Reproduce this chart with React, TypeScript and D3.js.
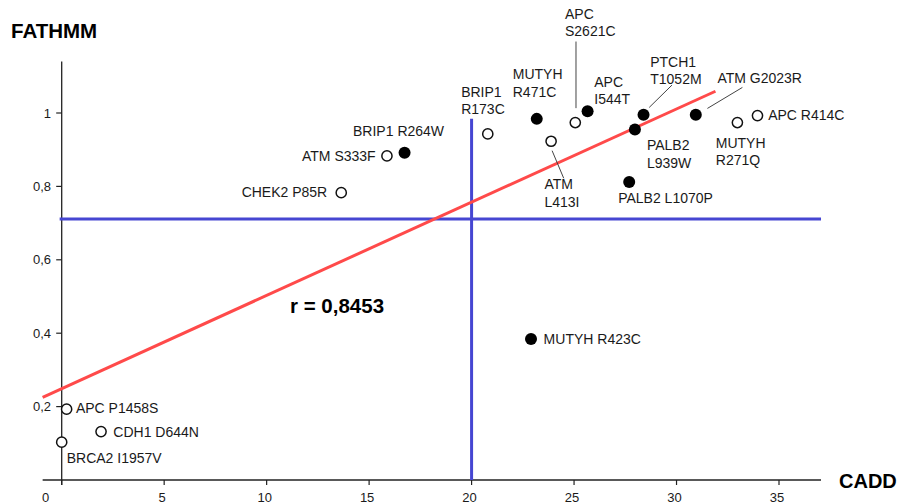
import React from "react";
import * as d3 from "d3";

// ---- Data ----
const variants = [
  "APC P1458S", "CDH1 D644N", "BRCA2 I1957V", "CHEK2 P85R", "ATM S333F",
  "BRIP1 R264W", "BRIP1 R173C", "MUTYH R471C", "ATM L413I", "APC S2621C",
  "APC I544T", "PALB2 L1070P", "PALB2 L939W", "PTCH1 T1052M", "ATM G2023R",
  "MUTYH R271Q", "APC R414C", "MUTYH R423C",
];
const caddScores = [
  0.24, 1.92, 0.0, 13.64, 15.87,
  16.73, 20.79, 23.18, 23.88, 25.06,
  25.66, 27.69, 27.97, 28.39, 30.94,
  32.97, 33.95, 22.9,
];
const fathmmScores = [
  0.193, 0.132, 0.103, 0.783, 0.883,
  0.892, 0.943, 0.984, 0.923, 0.974,
  1.005, 0.812, 0.955, 0.995, 0.995,
  0.974, 0.993, 0.384,
];
const filledFlags = [
  false, false, false, false, false,
  true, false, true, false, false,
  true, true, true, true, true,
  false, false, true,
];
const xTicks = [0, 5, 10, 15, 20, 25, 30, 35];
const yTicks = [0.2, 0.4, 0.6, 0.8, 1];
const caddThreshold = 20;
const fathmmThreshold = 0.711;
const regIntercept = 0.249;
const regSlope = 0.0254;
const correlationText = "r = 0,8453";

// ---- Label layout (pixel offsets from the point) ----
type Lab = { lines: string[]; anchor: string; dx: number; dy: number; leader?: number[] };
const labelLayout: Lab[] = [
  { lines: ["APC P1458S"], anchor: "start", dx: 9.3, dy: 4 },
  { lines: ["CDH1 D644N"], anchor: "start", dx: 12.3, dy: 5 },
  { lines: ["BRCA2 I1957V"], anchor: "start", dx: 5, dy: 21 },
  { lines: ["CHEK2 P85R"], anchor: "end", dx: -14, dy: 4.6 },
  { lines: ["ATM S333F"], anchor: "end", dx: -11.3, dy: 4.7 },
  { lines: ["BRIP1 R264W"], anchor: "middle", dx: -6, dy: -17 },
  { lines: ["BRIP1", "R173C"], anchor: "start", dx: -26.6, dy: -37.3 },
  { lines: ["MUTYH", "R471C"], anchor: "start", dx: -24, dy: -39.7 },
  { lines: ["ATM", "L413I"], anchor: "start", dx: -6.7, dy: 48, leader: [1, 9.4, 12.6, 37] },
  { lines: ["APC", "S2621C"], anchor: "start", dx: -10.3, dy: -103.7, leader: [0.7, -81, 0.7, -14.4] },
  { lines: ["APC", "I544T"], anchor: "start", dx: 6.7, dy: -24.3 },
  { lines: ["PALB2 L1070P"], anchor: "start", dx: -11, dy: 21.3 },
  { lines: ["PALB2", "L939W"], anchor: "start", dx: 12, dy: 20.7 },
  { lines: ["PTCH1", "T1052M"], anchor: "start", dx: 6.7, dy: -48, leader: [28.4, -29.7, 5.7, -7.4] },
  { lines: ["ATM G2023R"], anchor: "start", dx: 21.6, dy: -32, leader: [46.6, -27.4, 11.6, -6.4] },
  { lines: ["MUTYH", "R271Q"], anchor: "start", dx: -21.6, dy: 25 },
  { lines: ["APC R414C"], anchor: "start", dx: 10.7, dy: 4.3 },
  { lines: ["MUTYH R423C"], anchor: "start", dx: 12.6, dy: 5 },
];

const W = 899;
const H = 504;
const FONT = "'Liberation Sans', Arial, Helvetica, sans-serif";
const BLUE = "#4646d2";
const RED = "#ff4a4a";
const TEXT = "#1a1a1a";

export default function App() {
  const x = d3.scaleLinear().domain([0, 35]).range([61.7, 779]);
  const y = d3.scaleLinear().domain([0, 1]).range([480, 113]);
  const xAxisMin = -0.93;
  const xAxisMax = 37.05;
  const yAxisMax = 1.14;
  const fmt = (v: number) => String(+v.toFixed(1)).replace(".", ",");
  const regEnd = 31.9;
  const line = d3
    .line<number>()
    .x((d) => x(d))
    .y((d) => y(regIntercept + regSlope * d));

  const pts = variants.map((name, i) => ({
    name,
    px: x(caddScores[i]),
    py: y(fathmmScores[i]),
    filled: filledFlags[i],
    lab: labelLayout[i],
  }));

  return (
    <svg
      width={W}
      height={H}
      style={{ position: "absolute", left: 0, top: 0, background: "#fff" }}
      fontFamily={FONT}
    >
      <rect width={W} height={H} fill="#fff" />
      {/* axes */}
      <line x1={x(xAxisMin)} x2={x(xAxisMax)} y1={y(0)} y2={y(0)} stroke="#222" strokeWidth={1.3} />
      <line x1={x(0)} x2={x(0)} y1={y(yAxisMax)} y2={y(0) + 5} stroke="#222" strokeWidth={1.3} />
      {xTicks.map((t) => (
        <g key={"xt" + t}>
          <line x1={x(t)} x2={x(t)} y1={y(0)} y2={y(0) + 5} stroke="#222" strokeWidth={1.2} />
          <text
            x={t === 0 ? x(t) - 16 : x(t) - 2}
            y={501.5}
            textAnchor="middle"
            fontSize={13}
            fill={TEXT}
          >
            {t}
          </text>
        </g>
      ))}
      {yTicks.map((t) => (
        <g key={"yt" + t}>
          <line x1={x(0) - 5.5} x2={x(0)} y1={y(t)} y2={y(t)} stroke="#222" strokeWidth={1.2} />
          <text x={51} y={y(t)} dy="0.35em" textAnchor="end" fontSize={13} fill={TEXT}>
            {fmt(t)}
          </text>
        </g>
      ))}
      <text x={11} y={37.5} fontSize={20.5} fontWeight="bold" fill="#000">
        FATHMM
      </text>
      <text x={839} y={487.5} fontSize={20} fontWeight="bold" fill="#000">
        CADD
      </text>

      {/* threshold lines */}
      <line
        x1={x(-0.1)}
        x2={x(xAxisMax)}
        y1={y(fathmmThreshold)}
        y2={y(fathmmThreshold)}
        stroke={BLUE}
        strokeWidth={3}
      />
      <line
        x1={x(caddThreshold)}
        x2={x(caddThreshold)}
        y1={y(0.984)}
        y2={y(0)}
        stroke={BLUE}
        strokeWidth={3}
      />

      {/* regression */}
      <path d={line([xAxisMin, regEnd]) || ""} stroke={RED} strokeWidth={3} fill="none" />
      <text x={290} y={312.5} fontSize={20.5} fontWeight="bold" fill="#000">
        {correlationText}
      </text>

      {/* leaders */}
      {pts.map((p) =>
        p.lab.leader ? (
          <line
            key={"ld" + p.name}
            x1={p.px + p.lab.leader[0]}
            y1={p.py + p.lab.leader[1]}
            x2={p.px + p.lab.leader[2]}
            y2={p.py + p.lab.leader[3]}
            stroke="#444"
            strokeWidth={1}
          />
        ) : null
      )}

      {/* points */}
      {pts.map((p) =>
        p.filled ? (
          <circle key={"c" + p.name} cx={p.px} cy={p.py} r={6} fill="#000" />
        ) : (
          <circle
            key={"c" + p.name}
            cx={p.px}
            cy={p.py}
            r={5.1}
            fill="#fff"
            stroke="#111"
            strokeWidth={1.5}
          />
        )
      )}

      {/* labels */}
      {pts.map((p) => (
        <text
          key={"l" + p.name}
          x={p.px + p.lab.dx}
          y={p.py + p.lab.dy}
          textAnchor={p.lab.anchor as any}
          fontSize={14}
          fill={TEXT}
        >
          {p.lab.lines.map((ln, j) => (
            <tspan key={j} x={p.px + p.lab.dx} y={p.py + p.lab.dy + j * 17.4}>
              {ln}
            </tspan>
          ))}
        </text>
      ))}
    </svg>
  );
}
